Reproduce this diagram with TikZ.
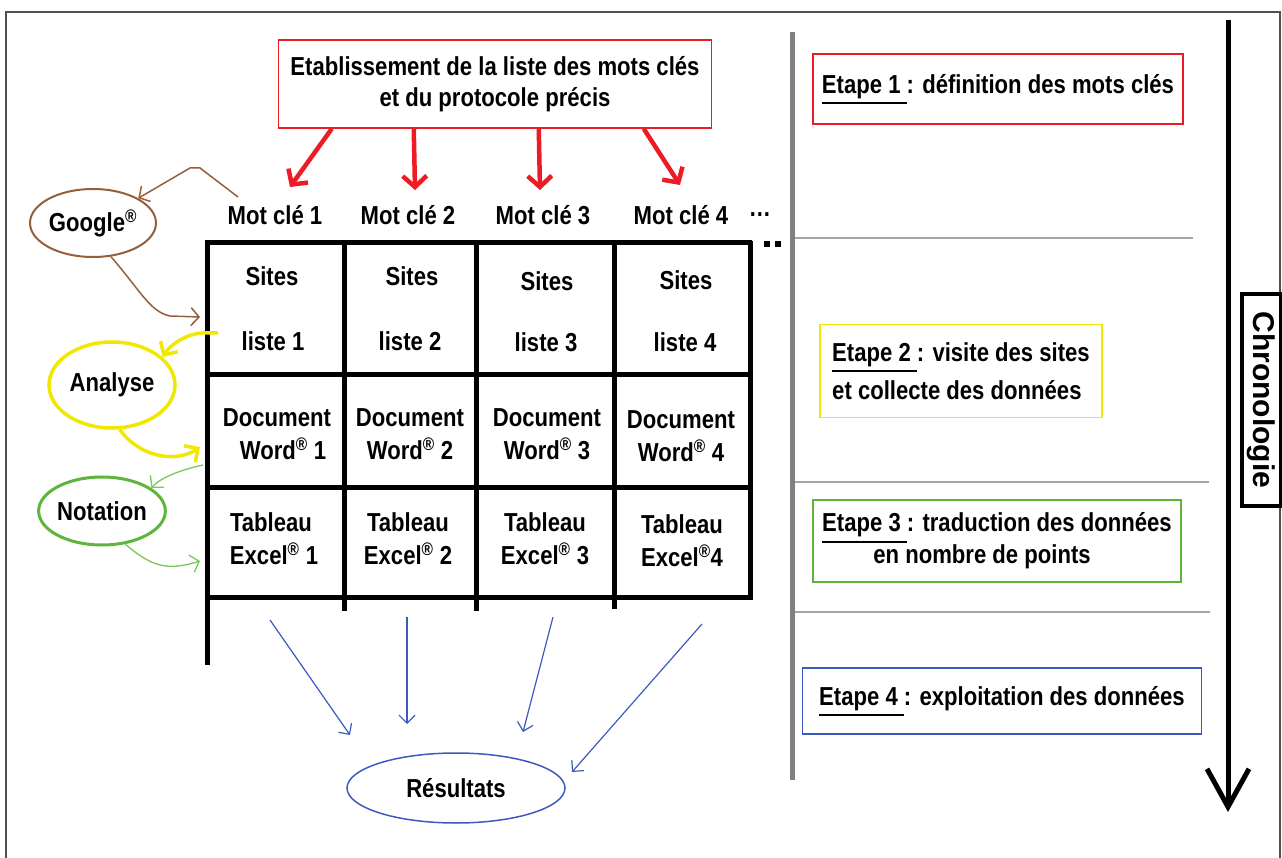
\documentclass[tikz,border=0pt]{standalone}
\usepackage{fontspec}
\setmainfont{Liberation Sans}[FakeStretch=0.85]
\newfontfamily\widefont{Liberation Sans}
\usetikzlibrary{arrows.meta,shapes.geometric}
\definecolor{cred}{RGB}{237,28,36}
\definecolor{cyel}{RGB}{240,232,0}
\definecolor{cgreen}{RGB}{95,180,60}
\definecolor{cgreenl}{RGB}{120,200,90}
\definecolor{cblue}{RGB}{60,90,190}
\definecolor{cbrown}{RGB}{150,95,60}
\definecolor{cgray}{RGB}{128,128,128}
\definecolor{cgrayl}{RGB}{165,165,165}
\definecolor{cframe}{RGB}{80,80,80}
\newcommand{\ulE}[1]{\leavevmode\setbox0=\hbox{#1}\rlap{\rule[-11pt]{\wd0}{1.8pt}}\box0}
\newcommand{\reg}{\textsuperscript{®}}
\begin{document}
\begin{tikzpicture}[x=1pt,y=-1pt,
  font=\fontsize{26}{31}\selectfont\bfseries,
  txt/.style={inner sep=0pt,align=center},
  cell/.style={inner sep=0pt,align=center,font=\fontsize{26}{33}\selectfont\bfseries},
  ell/.style={ellipse,inner sep=0pt},
  redarr/.style={draw=cred,line width=4.5pt,-{Straight Barb[length=11pt,width=24pt]}},
  yelarr/.style={draw=cyel,line width=3.5pt,-{Straight Barb[length=10pt,width=20pt]}},
  brownarr/.style={draw=cbrown,line width=1.5pt,-{Straight Barb[length=8pt,width=18pt]}},
  greenarr/.style={draw=cgreenl,line width=1.3pt,-{Straight Barb[length=8pt,width=18pt]}},
  bluearr/.style={draw=cblue,line width=1.2pt,-{Straight Barb[length=8pt,width=16pt]}},
  grid/.style={line width=5pt,black},
  etape/.style={draw,line width=1.5pt,inner sep=0pt,align=left},
]
\useasboundingbox (0,0) rectangle (1282,858);
% frame
\draw[cframe,line width=2pt] (6,870) -- (6,12) -- (1280,12) -- (1280,870);

% top box
\node[draw=cred,line width=1.5pt,txt,minimum width=433pt,minimum height=88pt] (top) at (495,84)
  {Etablissement de la liste des mots clés\\et du protocole précis};

% keywords
\node[txt] (mc1) at (275,215) {Mot clé 1};
\node[txt] (mc2) at (408,215) {Mot clé 2};
\node[txt] (mc3) at (543,215) {Mot clé 3};
\node[txt] (mc4) at (681,215) {Mot clé 4};
\node[txt] (mcd) at (760,215) {…};

\draw[redarr] ([xshift=54pt]top.south west) -- ([shift={(15,-28)}]mc1.center);
\draw[redarr] ([xshift=136pt]top.south west) -- ([shift={(7,-25)}]mc2.center);
\draw[redarr] ([xshift=261pt]top.south west) -- ([shift={(-3,-25)}]mc3.center);
\draw[redarr] ([xshift=366pt]top.south west) -- ([shift={(-1,-30)}]mc4.center);

% table
\draw[grid] (205,243) -- (752,243);
\fill (764,241) rectangle (770,247);
\fill (775,241) rectangle (781,247);
\draw[grid] (207,375) -- (750,375);
\draw[grid] (207,487) -- (750,487);
\draw[grid] (207,597) -- (750,597);
\draw[grid] (207,241) -- (207,665);
\draw[grid] (344,241) -- (344,611);
\draw[grid] (476,241) -- (476,611);
\draw[grid] (614,241) -- (614,609);
\draw[grid] (750,241) -- (750,600);

\node[cell] (s1) at (272,276) {Sites};
\node[cell] (s2) at (412,276) {Sites};
\node[cell] (s3) at (547,281) {Sites};
\node[cell] (s4) at (686,280) {Sites};
\node[cell] (l1) at (273,341) {liste 1};
\node[cell] (l2) at (410,341) {liste 2};
\node[cell] (l3) at (546,342) {liste 3};
\node[cell] (l4) at (685,342) {liste 4};
\node[cell] (d1) at (277,434) {Document\\\hspace*{12pt}Word\reg{} 1};
\node[cell] (d2) at (410,434) {Document\\Word\reg{} 2};
\node[cell] (d3) at (547,434) {Document\\Word\reg{} 3};
\node[cell] (d4) at (681,436) {Document\\Word\reg{} 4};
\node[cell] (e1) at (271,539) {Tableau\\\hspace*{6pt}Excel\reg{} 1};
\node[cell] (e2) at (408,539) {Tableau\\Excel\reg{} 2};
\node[cell] (e3) at (545,539) {Tableau\\Excel\reg{} 3};
\node[cell] (e4) at (682,541) {Tableau\\Excel\reg{}4};

% left ellipses
\node[ell,draw=cbrown,line width=2pt,minimum width=126pt,minimum height=68pt] (google) at (93,223) {Google\reg};
\node[ell,draw=cyel,line width=3.5pt,minimum width=126pt,minimum height=86pt] (analyse) at (112,385) {Analyse};
\node[ell,draw=cgreen,line width=3pt,minimum width=112pt,minimum height=68pt] (notation) at (102,511) {Notation};

\coordinate (bs) at (238,197);
\coordinate (bt) at (200,317);
\coordinate (ys) at (218,333);
\coordinate (yt) at (200,447);
\coordinate (gs) at (203,465);
\coordinate (gt) at (200,561);

\draw[brownarr] (bs) -- (200,168) -- (190,168) -- (google.north east);
\draw[brownarr] (google.-62) .. controls (140,290) and (150,312) .. (170,316) -- (bt);
\draw[yelarr] (ys) -- (202,333) .. controls (186,334) and (170,345) .. (analyse.29);
\draw[yelarr] (analyse.-80) .. controls (138,456) and (175,464) .. (yt);
\draw[greenarr] (gs) .. controls (180,470) and (160,478) .. (notation.25);
\draw[greenarr] (notation.-55) .. controls (150,565) and (165,572) .. (gt);

% results
\node[ell,draw=cblue,line width=1.5pt,minimum width=218pt,minimum height=70pt] (res) at (456,788) {Résultats};
\coordinate (b1) at (270,620);
\coordinate (b2) at (407,617);
\coordinate (b3) at (553,617);
\coordinate (b4) at (702,624);
\coordinate (t1) at (350,735);
\coordinate (t2) at (407,724);
\coordinate (t3) at (523,732);
\coordinate (t4) at (572,772);
\draw[bluearr] (b1) -- (t1);
\draw[bluearr] (b2) -- (t2);
\draw[bluearr] (b3) -- (t3);
\draw[bluearr] (b4) -- (t4);

% right side
\draw[cgray,line width=5pt] (792,32) -- (792,780);
\draw[cgrayl,line width=2pt] (795,238) -- (1193,238);
\draw[cgrayl,line width=2pt] (795,482) -- (1209,482);
\draw[cgrayl,line width=2pt] (795,612) -- (1210,612);

\node[etape,draw=cred,minimum width=370pt,minimum height=70pt,align=center] (et1) at (998,89)
  {\ulE{Etape 1 }: définition des mots clés};
\node[etape,draw=cyel,minimum width=282pt,minimum height=93pt,font=\fontsize{26}{38}\selectfont\bfseries] (et2) at (961,371)
  {\ulE{Etape 2 }: visite des sites\\et collecte des données};
\node[etape,draw=cgreen,minimum width=368pt,minimum height=82pt,align=center,font=\fontsize{26}{32}\selectfont\bfseries] (et3) at (997,541)
  {\ulE{Etape 3 }: traduction des données\\\hspace*{-30pt}en nombre de points};
\node[etape,draw=cblue,minimum width=399pt,minimum height=66pt,align=center] (et4) at (1002,701)
  {\ulE{Etape 4 }: exploitation des données};

% chronology
\coordinate (ch0) at (1228,20);
\coordinate (ch1) at (1228,812);
\draw[line width=5pt,-{Straight Barb[length=38pt,width=42pt]}] (ch0) -- (ch1);
\node[draw,line width=4pt,rotate=-90,inner sep=0pt,minimum width=212pt,minimum height=39pt,fill=white,font=\widefont\fontsize{30}{34}\selectfont\bfseries] (chrono) at (1261,400) {Chronologie};
\end{tikzpicture}
\end{document}
